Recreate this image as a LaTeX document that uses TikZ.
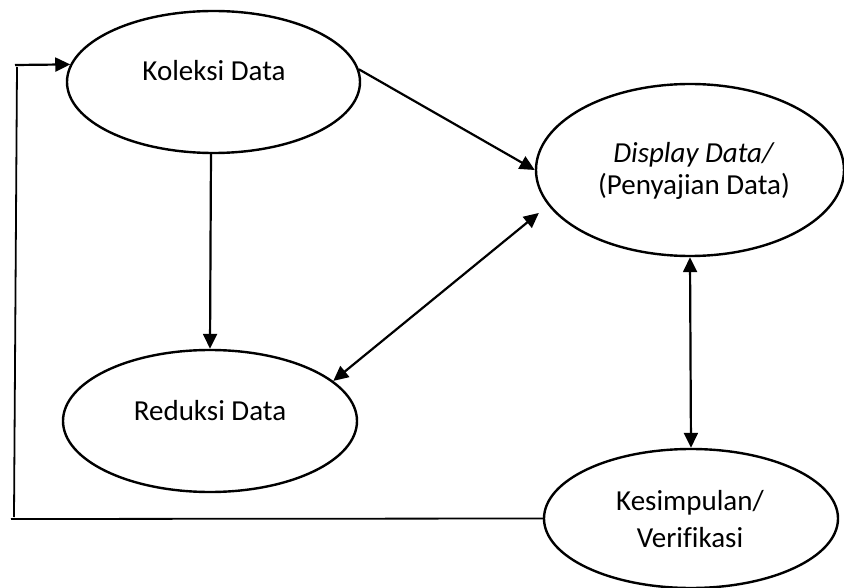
\documentclass[tikz,border=0pt]{standalone}
\usepackage{fontspec}
\setmainfont{Carlito}[Ligatures=NoCommon]
\usetikzlibrary{shapes.geometric,arrows.meta}

\begin{document}
\begin{tikzpicture}[x=1pt,y=-1pt]
\tikzset{oval/.style={draw,ellipse,line width=2.4pt,inner sep=0pt},
  lbl/.style={font=\fontsize{29}{32}\selectfont,align=center,anchor=base},
  tip/.style={-{Triangle[length=15pt,width=14pt]}},
  link/.style={line width=2.2pt,tip},
  twoway/.style={line width=2.2pt,{Triangle[length=15pt,width=14pt]}-{Triangle[length=15pt,width=14pt]}},
  back/.style={line width=1.8pt}}
\useasboundingbox (0,0) rectangle (844,588);
\node[oval,minimum width=293pt,minimum height=142pt] (kol) at (213.5,82) {};
\node[lbl] (kolt) at (214,81) {Koleksi Data};
\node[oval,minimum width=308pt,minimum height=172pt] (dis) at (690,170) {};
\node[lbl] (dist) at (694,195) {\textit{Display Data/}\\(Penyajian Data)};
\node[oval,minimum width=294pt,minimum height=142pt] (red) at (210,421) {};
\node[lbl] (redt) at (210,420) {Reduksi Data};
\node[oval,minimum width=294pt,minimum height=139pt] (kes) at (691,518.5) {};
\node[lbl,font=\fontsize{29}{37}\selectfont] (kest) at (690,547) {Kesimpulan/\\Verifikasi};
\coordinate (bl) at (11,519);
\coordinate (vb) at (14,517);
\coordinate (vt) at (17,67);
\coordinate (hs) at (15,65);
\draw[link] (kol.5) -- (dis.180);
\draw[link] (kol.268) -- (red.north);
\draw[twoway,shorten >=12pt] (red.18) -- (dis.194);
\draw[twoway] (dis.south) -- (kes.north);
\draw[back] (kes.west) -- (bl);
\draw[back] (vb) -- (vt);
\draw[link] (hs) -- (kol.173);
\end{tikzpicture}
\end{document}
